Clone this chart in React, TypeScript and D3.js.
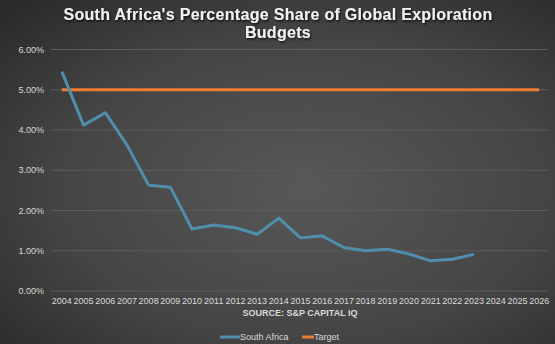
import React from "react";
import * as d3 from "d3";

const years = ["2004","2005","2006","2007","2008","2009","2010","2011","2012","2013","2014","2015","2016","2017","2018","2019","2020","2021","2022","2023","2024","2025","2026"];
const southAfrica = [5.45,4.12,4.43,3.63,2.63,2.58,1.54,1.64,1.57,1.41,1.81,1.32,1.37,1.08,1.0,1.04,0.92,0.75,0.79,0.91];
const target = years.map(() => 5.0);
const yTicks = [0,1,2,3,4,5,6];

const W = 555, H = 344;
const M = { left: 51, right: 5, top: 49.5, bottom: 53 };

export default function App() {
  const x = d3.scaleBand<string>().domain(years).range([M.left, W - M.right]).padding(0);
  const y = d3.scaleLinear().domain([0, 6]).range([H - M.bottom, M.top]);
  const cx = (yr: string) => (x(yr) ?? 0) + x.bandwidth() / 2;
  const line = d3.line<number>().x((_, i) => cx(years[i])).y(d => y(d));
  const font = "'Liberation Sans', Arial, sans-serif";
  return (
    <svg width={W} height={H} style={{ position: "absolute", left: 0, top: 0 }}>
      <defs>
        <radialGradient id="bg" cx="0.55" cy="0.55" r="0.75">
          <stop offset="0" stopColor="#585858" />
          <stop offset="0.6" stopColor="#444444" />
          <stop offset="1" stopColor="#2a2a2a" />
        </radialGradient>
        <filter id="sh" x="-10%" y="-30%" width="120%" height="160%">
          <feDropShadow dx="1" dy="1.5" stdDeviation="1" floodColor="#000" floodOpacity="0.8" />
        </filter>
      </defs>
      <rect width={W} height={H} fill="url(#bg)" />
      <g fontFamily={font} fontWeight="bold" fontSize={16} fill="#f2f2f2" textAnchor="middle" filter="url(#sh)" letterSpacing={0.3}>
        <text x={278} y={20}>South Africa's Percentage Share of Global Exploration</text>
        <text x={278} y={38}>Budgets</text>
      </g>
      {yTicks.map(t => (
        <g key={t}>
          <line x1={M.left} x2={W - M.right - 2} y1={y(t)} y2={y(t)} stroke="#5c5c5c" strokeWidth={1} />
          <text x={44} y={y(t) + 3} textAnchor="end" fontFamily={font} fontSize={9} fill="#d9d9d9">{t.toFixed(2)}%</text>
        </g>
      ))}
      {years.map(yr => (
        <text key={yr} x={cx(yr)} y={304} textAnchor="middle" fontFamily={font} fontSize={9} fill="#d9d9d9">{yr}</text>
      ))}
      <text x={300} y={316} textAnchor="middle" fontFamily={font} fontSize={9} fontWeight="bold" fill="#d9d9d9">SOURCE: S&amp;P CAPITAL IQ</text>
      <path d={line(target) ?? ""} fill="none" stroke="#ed7d31" strokeWidth={3} />
      <path d={line(southAfrica) ?? ""} fill="none" stroke="#4f8fab" strokeWidth={3} strokeLinejoin="round" />
      <g fontFamily={font} fontSize={9} fill="#d9d9d9">
        <line x1={220} x2={240} y1={337} y2={337} stroke="#4f8fab" strokeWidth={3} />
        <text x={240} y={340}>South Africa</text>
        <line x1={302} x2={314} y1={337} y2={337} stroke="#ed7d31" strokeWidth={3} />
        <text x={314} y={340}>Target</text>
      </g>
    </svg>
  );
}
